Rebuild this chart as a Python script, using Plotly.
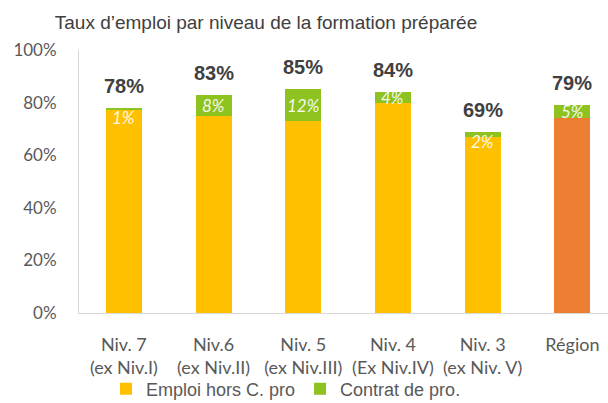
import plotly.graph_objects as go

categories = ["Niv. 7<br>(ex Niv.I)", "Niv.6<br>(ex Niv.II)", "Niv. 5<br>(ex Niv.III)",
              "Niv. 4<br>(Ex Niv.IV)", "Niv. 3<br>(ex Niv. V)", "Région"]
emploi_hors_cpro = [77, 75, 73, 80, 67, 74]
contrat_pro = [1, 8, 12, 4, 2, 5]
totals = [78, 83, 85, 84, 69, 79]
base_colors = ["#FFC000", "#FFC000", "#FFC000", "#FFC000", "#FFC000", "#ED7D31"]
y_ticks = [0, 20, 40, 60, 80, 100]

ARIAL = "Liberation Sans, Arial"

fig = go.Figure()
fig.add_trace(go.Bar(x=categories, y=emploi_hors_cpro, name="Emploi hors C. pro",
                     marker=dict(color=base_colors, line=dict(width=0))))
fig.add_trace(go.Bar(x=categories, y=contrat_pro, name="Contrat de pro.",
                     marker=dict(color="#8DC21F", line=dict(width=0))))

# Total labels above bars
for c, t in zip(categories, totals):
    fig.add_annotation(x=c, y=t, text=f"<b>{t}%</b>", showarrow=False,
                       yanchor="bottom", yshift=9,
                       font=dict(family=ARIAL, size=20, color="#404040"))

# Contrat de pro labels (inside green segment)
for c, b, g, t in zip(categories, emploi_hors_cpro, contrat_pro, totals):
    if g >= 4:
        fig.add_annotation(x=c, y=b + g / 2, text=f"<i>{g}%</i>", showarrow=False,
                           yanchor="middle",
                           font=dict(family="Lato", size=17, color="rgba(255,255,255,0.92)"))
    else:
        fig.add_annotation(x=c, y=t, text=f"<i>{g}%</i>", showarrow=False,
                           yanchor="top", yshift=3,
                           font=dict(family="Lato", size=17, color="rgba(255,255,255,0.92)"))

fig.update_layout(
    barmode="stack",
    bargap=0.6,
    width=608, height=403,
    margin=dict(l=79, r=0, t=50, b=90, autoexpand=False),
    paper_bgcolor="white", plot_bgcolor="white",
    title=dict(text="Taux d’emploi par niveau de la formation préparée",
               x=266 / 608, xanchor="center", xref="container",
               y=1 - 22 / 403, yanchor="middle", yref="container",
               font=dict(family=ARIAL, size=19, color="#404040")),
    showlegend=True,
    legend=dict(orientation="h", xref="container", yref="container",
                x=106 / 608, xanchor="left", y=1 - 389 / 403, yanchor="middle",
                font=dict(family=ARIAL, size=18, color="#595959"),
                traceorder="normal", itemclick=False, bgcolor="rgba(0,0,0,0)"),
    xaxis=dict(range=[-0.5, 5.397], showgrid=False, showline=True, linecolor="#D9D9D9",
               linewidth=1, ticks="", ticklabelstandoff=15,
               tickfont=dict(family="Lato", size=18, color="#595959")),
    yaxis=dict(range=[0, 100], tickvals=y_ticks, ticktext=[f"{v}%" for v in y_ticks],
               showgrid=False, showline=True, linecolor="#D9D9D9", linewidth=1,
               ticks="", ticklabelstandoff=18, zeroline=False,
               tickfont=dict(family="Lato", size=17, color="#595959")),
)

fig.write_html("out.html", post_script="document.body.style.margin='0';",
               config={"displayModeBar": False})
